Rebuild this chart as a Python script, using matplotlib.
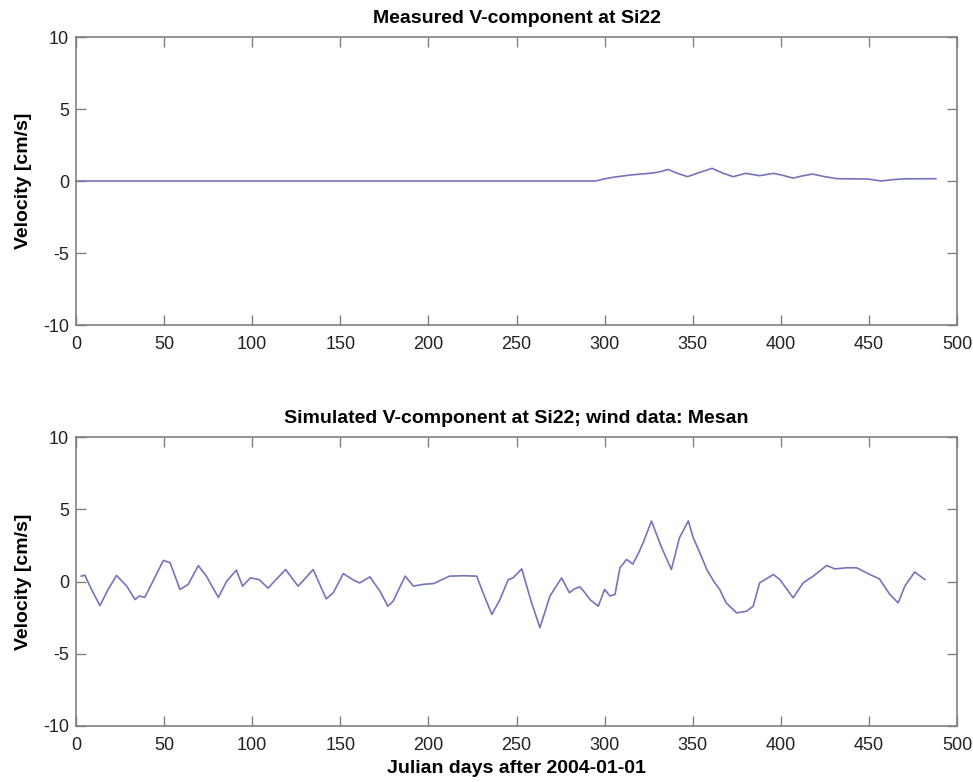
import matplotlib.pyplot as plt

# measured V-component (mostly zero until ~day 292)
meas_days = [0, 292, 295, 300, 306, 315, 325, 330, 336, 341, 347, 354, 361, 367, 373, 380,
             388, 396, 401, 407, 412, 418, 425, 432, 440, 449, 457, 464, 470, 488]
meas_vel = [0, 0, 0.0, 0.15, 0.28, 0.42, 0.53, 0.6, 0.8, 0.55, 0.3, 0.6, 0.88, 0.55, 0.3, 0.53,
            0.37, 0.53, 0.4, 0.2, 0.35, 0.48, 0.3, 0.16, 0.15, 0.14, 0.0, 0.1, 0.15, 0.16]

# simulated V-component, wind data Mesan
sim_days = [3, 5, 9, 13.6, 18, 23, 28.8, 33.5, 36, 39, 44, 49.6, 53.4, 59, 63.7, 69.4, 74,
            80.8, 85.5, 91, 94.5, 99, 104, 109, 114, 119, 126, 130, 134.6, 142, 146, 151.7,
            157, 161, 166.8, 172.5, 177, 180, 186.8, 191.5, 197, 203, 212, 220, 227.4, 231,
            236, 240.6, 245.3, 248, 253, 258, 263.3, 269, 275.6, 280, 283, 286, 289, 291.7,
            296.4, 300, 303, 305.9, 308.7, 312.5, 316, 319, 321.9, 326.6, 332, 337.9, 342.5,
            347.5, 350.3, 354, 358, 362, 365.3, 369, 374.9, 380.6, 384.3, 388, 395.8, 399.5,
            407, 412.7, 418.4, 426, 430.7, 437.3, 443, 450.6, 456, 461.9, 466.6, 470.4, 476,
            481.8]
sim_vel = [0.37, 0.44, -0.6, -1.67, -0.6, 0.42, -0.32, -1.25, -1.0, -1.1, 0.1, 1.46, 1.3,
           -0.55, -0.2, 1.1, 0.37, -1.1, 0.02, 0.79, -0.32, 0.25, 0.13, -0.46, 0.2, 0.83,
           -0.32, 0.2, 0.83, -1.2, -0.78, 0.55, 0.13, -0.1, 0.32, -0.67, -1.71, -1.36, 0.37,
           -0.32, -0.2, -0.14, 0.37, 0.4, 0.37, -0.78, -2.28, -1.25, 0.13, 0.25, 0.87, -1.25,
           -3.2, -1.0, 0.25, -0.78, -0.5, -0.37, -0.8, -1.25, -1.71, -0.55, -1.0, -0.9, 0.95,
           1.53, 1.2, 1.9, 2.69, 4.19, 2.45, 0.83, 3.03, 4.19, 3.03, 2.0, 0.83, 0.0, -0.55,
           -1.48, -2.17, -2.06, -1.71, -0.09, 0.48, 0.13, -1.13, -0.09, 0.37, 1.11, 0.87,
           0.95, 0.95, 0.48, 0.18, -0.9, -1.48, -0.32, 0.66, 0.13]

x_ticks = [0, 50, 100, 150, 200, 250, 300, 350, 400, 450, 500]
y_ticks = [-10, -5, 0, 5, 10]

plt.rcParams['font.family'] = ['Liberation Sans', 'DejaVu Sans']
plt.rcParams['axes.unicode_minus'] = False

W, H = 973, 782
fig = plt.figure(figsize=(W / 100, H / 100), dpi=100)
ax1 = fig.add_axes([76 / W, 1 - 325 / H, 881 / W, 288 / H])
ax2 = fig.add_axes([76 / W, 1 - 726 / H, 881 / W, 289 / H])

line_color = '#7474bc'
spine_color = '#808080'

ax1.plot(meas_days, meas_vel, color=line_color, linewidth=1.2)
ax2.plot(sim_days, sim_vel, color=line_color, linewidth=1.2)

for ax in (ax1, ax2):
    ax.set_xlim(0, 500)
    ax.set_ylim(-10, 10)
    ax.set_xticks(x_ticks)
    ax.set_yticks(y_ticks)
    ax.tick_params(direction='in', top=True, right=True, length=7, width=1,
                   color=spine_color, labelsize=13, labelcolor='#222222')
    ax.tick_params(axis='x', pad=8)
    ax.tick_params(axis='y', pad=5)
    for s in ax.spines.values():
        s.set_color(spine_color)
        s.set_linewidth(1.2)
    ax.set_ylabel('Velocity [cm/s]', fontsize=14, fontweight='bold', labelpad=8)

ax1.set_title('Measured V-component at Si22', fontsize=14, fontweight='bold', pad=10)
ax2.set_title('Simulated V-component at Si22; wind data: Mesan', fontsize=14,
              fontweight='bold', pad=10)
ax2.set_xlabel('Julian days after 2004-01-01', fontsize=14, fontweight='bold', labelpad=4)

fig.savefig('out.png', dpi=100)
